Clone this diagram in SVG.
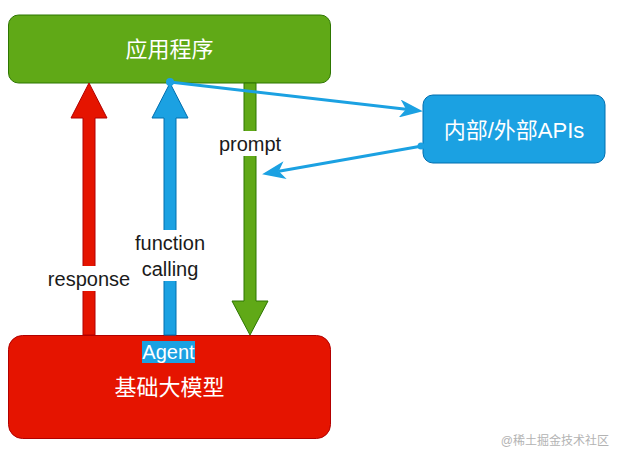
<svg xmlns="http://www.w3.org/2000/svg" width="619" height="454" viewBox="0 0 619 454">
  <style>
    .cjk { font-family: "Liberation Sans", "Noto Sans CJK SC", sans-serif; font-size: 22px; fill: #ffffff; text-anchor: middle; dominant-baseline: central; }
    .lbl { font-family: "Liberation Sans", "Noto Sans CJK SC", sans-serif; font-size: 20px; fill: #1a1a1a; text-anchor: middle; dominant-baseline: central; }
    .conn { stroke: #1ba1e2; stroke-width: 3; fill: none; }
  </style>
  <defs>
    <marker id="arr" markerUnits="userSpaceOnUse" markerWidth="24" markerHeight="18" viewBox="0 0 22 17" refX="6" refY="8.5" orient="auto">
      <path d="M0,0 L22,8.5 L0,17 L6,8.5 Z" fill="#1ba1e2"/>
    </marker>
  </defs>
  <rect width="619" height="454" fill="#ffffff"/>

  <g id="app">
    <rect x="8.5" y="15" width="322" height="68" rx="10" fill="#60a917" stroke="#2d7600" stroke-width="1"/>
    <text class="cjk" x="169.5" y="49">应用程序</text>
  </g>

  <g id="model">
    <rect x="8.5" y="335.5" width="322" height="103" rx="14" fill="#e51400" stroke="#b20000" stroke-width="1"/>
    <text class="cjk" x="169.5" y="387">基础大模型</text>
  </g>

  <g id="apis">
    <rect x="423" y="95" width="182" height="68" rx="10" fill="#1ba1e2" stroke="#006eaf" stroke-width="1"/>
    <text class="cjk" x="514" y="130">内部/外部APIs</text>
  </g>

  <g id="connectors">
    <g id="response-arrow">
      <polygon points="83,335 83,118 71,118 89,83 107,118 95,118 95,335" fill="#e51400" stroke="#b20000" stroke-width="1"/>
      <rect x="46" y="266" width="86" height="25" fill="#ffffff"/>
      <text class="lbl" x="89" y="279">response</text>
    </g>
    <g id="function-arrow">
      <polygon points="164,335 164,118 152,118 170,83 188,118 176,118 176,335" fill="#1ba1e2" stroke="#006eaf" stroke-width="1"/>
      <rect x="132" y="230" width="76" height="51" fill="#ffffff"/>
      <text class="lbl" x="170" y="243">function</text>
      <text class="lbl" x="170" y="269">calling</text>
    </g>
    <g id="prompt-arrow">
      <polygon points="244,83 244,301 232,301 250,335 268,301 256,301 256,83" fill="#60a917" stroke="#2d7600" stroke-width="1"/>
      <rect x="216" y="131" width="68" height="25" fill="#ffffff"/>
      <text class="lbl" x="250" y="144">prompt</text>
    </g>
    <g id="call-api">
      <line class="conn" x1="170" y1="82" x2="406" y2="109.2" marker-end="url(#arr)"/>
      <circle cx="170" cy="82" r="4" fill="#1ba1e2"/>
    </g>
    <g id="api-return">
      <line class="conn" x1="422" y1="146" x2="278.8" y2="171.2" marker-end="url(#arr)"/>
      <circle cx="421" cy="146" r="3.5" fill="#1ba1e2"/>
    </g>
  </g>

  <g id="agent-label">
    <rect x="142" y="341" width="53" height="22" fill="#1ba1e2"/>
    <text class="lbl" x="168.5" y="352" fill="#ffffff" style="fill:#ffffff">Agent</text>
  </g>

  <text x="609" y="441" font-family="'Liberation Sans', 'Noto Sans CJK SC', sans-serif" font-size="12" fill="#b3b3b3" text-anchor="end" dominant-baseline="central">@稀土掘金技术社区</text>
</svg>
